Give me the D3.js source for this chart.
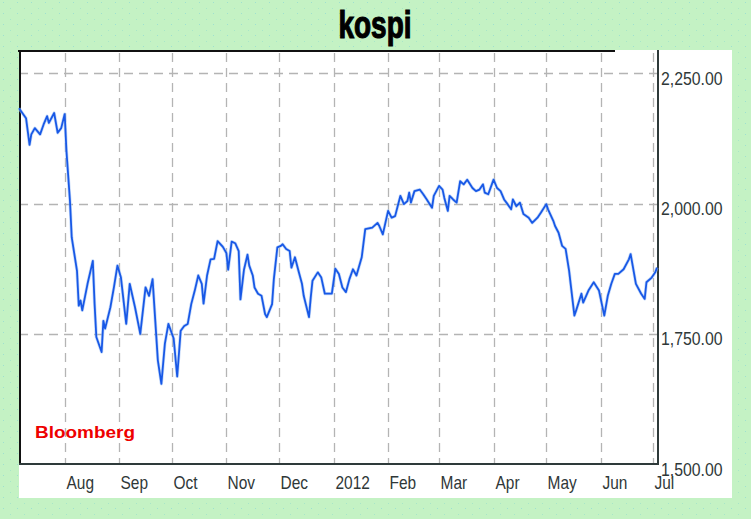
<!DOCTYPE html>
<html>
<head>
<meta charset="utf-8">
<script src="https://cdn.jsdelivr.net/npm/d3@7"></script>
<style>
  html, body { margin: 0; padding: 0; background: #c4f2c4; }
  svg { display: block; }
</style>
</head>
<body>
<svg id="chart" width="751" height="519"></svg>
<script>
// ---- data ----
const titleText = "kospi";
const sourceText = "Bloomberg";
const dates = [
"2011-07-06","2011-07-10","2011-07-12","2011-07-13","2011-07-15","2011-07-18","2011-07-20","2011-07-22","2011-07-23","2011-07-26",
"2011-07-28","2011-07-30","2011-08-01","2011-08-02","2011-08-04","2011-08-05","2011-08-08","2011-08-09","2011-08-10","2011-08-11",
"2011-08-14","2011-08-17","2011-08-18","2011-08-19","2011-08-22","2011-08-23","2011-08-24","2011-08-27","2011-08-29","2011-08-31",
"2011-09-02","2011-09-05","2011-09-07","2011-09-10","2011-09-13","2011-09-16","2011-09-18","2011-09-20","2011-09-23","2011-09-25",
"2011-09-27","2011-09-29","2011-10-02","2011-10-04","2011-10-06","2011-10-08","2011-10-10","2011-10-12","2011-10-14","2011-10-16",
"2011-10-18","2011-10-19","2011-10-21","2011-10-23","2011-10-25","2011-10-27","2011-10-30","2011-11-01","2011-11-02","2011-11-04",
"2011-11-06","2011-11-08","2011-11-09","2011-11-11","2011-11-13","2011-11-14","2011-11-16","2011-11-17","2011-11-19","2011-11-21",
"2011-11-23","2011-11-24","2011-11-27","2011-11-28","2011-11-30","2011-12-02","2011-12-03","2011-12-05","2011-12-07","2011-12-08",
"2011-12-10","2011-12-12","2011-12-14","2011-12-15","2011-12-18","2011-12-19","2011-12-20","2011-12-23","2011-12-25","2011-12-27",
"2011-12-31","2012-01-02","2012-01-04","2012-01-06","2012-01-08","2012-01-10","2012-01-12","2012-01-14","2012-01-17","2012-01-19",
"2012-01-23","2012-01-26","2012-01-27","2012-01-29","2012-02-01","2012-02-03","2012-02-05","2012-02-08","2012-02-10","2012-02-12",
"2012-02-13","2012-02-14","2012-02-16","2012-02-19","2012-02-21","2012-02-23","2012-02-26","2012-02-27","2012-03-01","2012-03-03",
"2012-03-04","2012-03-06","2012-03-07","2012-03-09","2012-03-11","2012-03-13","2012-03-15","2012-03-17","2012-03-20","2012-03-22",
"2012-03-24","2012-03-26","2012-03-27","2012-03-29","2012-04-01","2012-04-03","2012-04-05","2012-04-07","2012-04-09","2012-04-11",
"2012-04-12","2012-04-14","2012-04-16","2012-04-18","2012-04-21","2012-04-23","2012-04-26","2012-04-28","2012-05-01","2012-05-02",
"2012-05-05","2012-05-06","2012-05-08","2012-05-10","2012-05-12","2012-05-14","2012-05-15","2012-05-17","2012-05-18","2012-05-21",
"2012-05-22","2012-05-25","2012-05-28","2012-05-31","2012-06-03","2012-06-05","2012-06-07","2012-06-09","2012-06-11","2012-06-14",
"2012-06-17","2012-06-18","2012-06-21","2012-06-24","2012-06-26","2012-06-27","2012-06-30","2012-07-02","2012-07-03"
];
const kospi = [
2183,2164,2113,2133,2145,2133,2152,2168,2155,2174,
2136,2145,2172,2101,2005,1935,1871,1804,1814,1795,
1846,1890,1808,1744,1715,1775,1760,1801,1839,1881,
1858,1769,1846,1801,1750,1839,1823,1855,1699,1654,
1731,1769,1741,1668,1756,1765,1769,1807,1833,1862,
1846,1808,1862,1893,1894,1928,1917,1905,1873,1927,
1924,1909,1816,1873,1902,1881,1862,1839,1827,1823,
1788,1782,1807,1855,1916,1919,1922,1913,1909,1877,
1897,1871,1846,1823,1782,1820,1852,1868,1858,1827,
1827,1875,1865,1839,1830,1855,1874,1862,1897,1951,
1954,1963,1957,1941,1986,1973,1976,2015,1999,2005,
2021,2002,2024,2027,2018,2008,1992,2015,2034,2027,
2011,1986,2015,2008,2002,2043,2037,2046,2030,2024,
2027,2037,2021,2018,2046,2030,2024,2008,1999,1989,
2008,1995,2002,1980,1973,1963,1973,1983,1999,1989,
1967,1957,1944,1919,1913,1871,1842,1785,1795,1827,
1810,1833,1849,1833,1785,1823,1846,1865,1865,1874,
1893,1903,1846,1827,1817,1849,1858,1868,1877
];
const xDomain = ["2011-07-06", "2012-07-03"];
const monthTicks = ["2011-08-01","2011-09-01","2011-10-01","2011-11-01","2011-12-01","2012-01-01",
                    "2012-02-01","2012-03-01","2012-04-01","2012-05-01","2012-06-01","2012-07-01"];
const monthLabels = ["Aug","Sep","Oct","Nov","Dec","2012","Feb","Mar","Apr","May","Jun","Jul"];
const yDomain = [1500, 2295];
const yTicks = [1500, 1750, 2000, 2250];

// ---- drawing ----
(function () {
const parse = d3.timeParse("%Y-%m-%d");
const svg = d3.select("#chart");
const W = 751, H = 519;
const pL = 19, pR = 658, pT = 50, pB = 464;

const defs = svg.append("defs");
const pat = defs.append("pattern").attr("id", "dots").attr("width", 14).attr("height", 11)
  .attr("patternUnits", "userSpaceOnUse");
pat.append("rect").attr("width", 14).attr("height", 11).attr("fill", "#c4f2c4");
pat.append("rect").attr("x", 3).attr("y", 2).attr("width", 1).attr("height", 1).attr("fill", "#9fe0cf");
pat.append("rect").attr("x", 10).attr("y", 8).attr("width", 1).attr("height", 1).attr("fill", "#a8e6c8");

svg.append("rect").attr("width", W).attr("height", H).attr("fill", "url(#dots)");
// white panel
svg.append("rect").attr("x", 19).attr("y", 50).attr("width", 713).attr("height", 448).attr("fill", "#ffffff");

const x = d3.scaleTime().domain(xDomain.map(parse)).range([pL, 657]);
const y = d3.scaleLinear().domain(yDomain).range([pB, pT]);

// gridlines
const grid = svg.append("g").attr("stroke", "#b4b4b4").attr("stroke-width", 1.3)
  .attr("stroke-dasharray", "9,6").attr("fill", "none");
grid.selectAll("line.h").data(yTicks.filter(v => v > yDomain[0])).join("line")
  .attr("x1", pL).attr("x2", pR)
  .attr("y1", d => Math.round(y(d)) + 0.5).attr("y2", d => Math.round(y(d)) + 0.5);
grid.selectAll("line.v").data(monthTicks.map(parse)).join("line")
  .attr("x1", d => Math.round(x(d)) + 0.5).attr("x2", d => Math.round(x(d)) + 0.5)
  .attr("y1", pT + 3).attr("y2", pB);

// frame
svg.append("line").attr("x1", pL - 1).attr("x2", 615).attr("y1", pT + 1).attr("y2", pT + 1)
  .attr("stroke", "#111").attr("stroke-width", 2);
svg.append("line").attr("x1", pL + 1).attr("x2", pL + 1).attr("y1", pT).attr("y2", pB)
  .attr("stroke", "#111").attr("stroke-width", 2);
svg.append("line").attr("x1", pL).attr("x2", pR + 1).attr("y1", pB).attr("y2", pB)
  .attr("stroke", "#2e3a3a").attr("stroke-width", 2);
svg.append("line").attr("x1", pR).attr("x2", pR).attr("y1", pT).attr("y2", pB + 1)
  .attr("stroke", "#2e3a3a").attr("stroke-width", 2);

// line
const data = dates.map((d, i) => ({ date: parse(d), value: kospi[i] }));
const line = d3.line().x(d => x(d.date)).y(d => y(d.value));
svg.append("path").datum(data).attr("d", line).attr("fill", "none")
  .attr("stroke", "#9cc0f5").attr("stroke-width", 3.2).attr("stroke-linejoin", "round").attr("opacity", 0.6);
svg.append("path").datum(data).attr("d", line).attr("fill", "none")
  .attr("stroke", "#1858e6").attr("stroke-width", 1.8).attr("stroke-linejoin", "round");

// condensed text helper
function ctext(parent, tx, ty, str, opts) {
  const g = parent.append("g").attr("transform", `translate(${tx},${ty}) scale(${opts.sx || 1},1)`);
  return g.append("text").text(str)
    .attr("font-family", opts.family || "Liberation Sans, Arial, sans-serif")
    .attr("font-size", opts.size).attr("fill", opts.fill || "#333")
    .attr("font-weight", opts.weight || "normal")
    .attr("text-anchor", opts.anchor || "start");
}

// x axis labels
const fmtComma = d3.format(",.2f");
monthTicks.forEach((m, i) => {
  ctext(svg, Math.round(x(parse(m))) + 1.5, 488.5, monthLabels[i], { size: 18, sx: 0.86, fill: "#2f3838" });
});
// y axis labels
yTicks.forEach(v => {
  ctext(svg, 661, y(v) + 11.5, fmtComma(v), { size: 18, sx: 0.88, fill: "#2f3838" });
});

// title
svg.append("text").text(titleText).attr("x", 375).attr("y", 37.5)
  .attr("text-anchor", "middle")
  .attr("font-family", "Liberation Sans Narrow, Arial Narrow, sans-serif")
  .attr("font-weight", "bold").attr("font-size", 38)
  .attr("textLength", 73).attr("lengthAdjust", "spacingAndGlyphs")
  .attr("fill", "#000").attr("stroke", "#000").attr("stroke-width", 1.2);

// source label
svg.append("text").text(sourceText).attr("x", 35).attr("y", 438)
  .attr("font-family", "Liberation Sans, Arial, sans-serif")
  .attr("font-weight", "bold").attr("font-size", 17)
  .attr("textLength", 100).attr("lengthAdjust", "spacingAndGlyphs")
  .attr("fill", "#ee0000");
})();
</script>
</body>
</html>
